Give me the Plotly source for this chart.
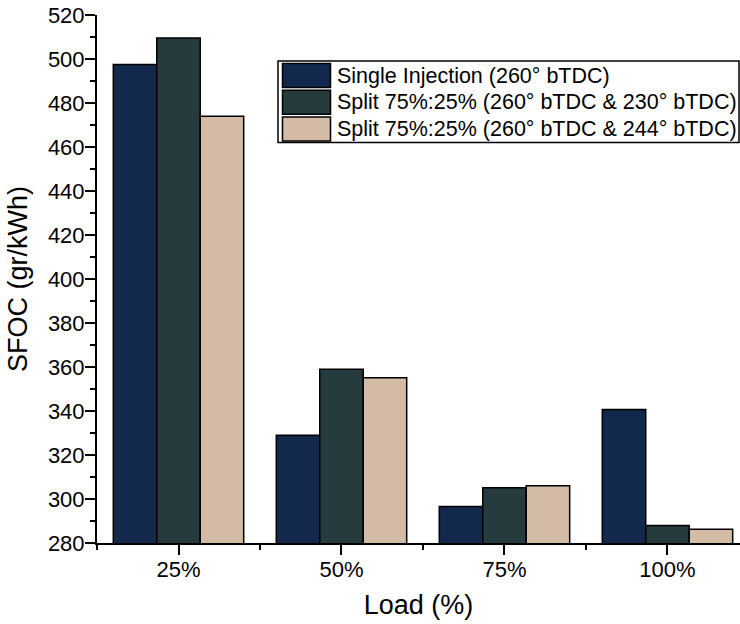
import plotly.graph_objects as go

# ---- data ----
categories = ["25%", "50%", "75%", "100%"]
series_names = [
    "Single Injection (260° bTDC)",
    "Split 75%:25% (260° bTDC & 230° bTDC)",
    "Split 75%:25% (260° bTDC & 244° bTDC)",
]
single_injection = [497.5, 329.0, 296.6, 340.7]
split_230 = [509.5, 359.0, 305.1, 288.0]
split_244 = [474.0, 355.1, 306.0, 286.2]
y_ticks = list(range(280, 521, 20))

# ---- style ----
colors = ["#12284c", "#253b3d", "#d4bba6"]
FONT = "Arial, Liberation Sans, sans-serif"
W, H = 740, 624
ML, MR, MT, MB = 97, 0, 15, 81
PW, PH = W - ML - MR, H - MT - MB

x_pos = list(range(len(categories)))
fig = go.Figure()
for name, vals, col in zip(series_names, [single_injection, split_230, split_244], colors):
    fig.add_trace(go.Bar(
        x=x_pos, y=vals, name=name, showlegend=False,
        marker=dict(color=col, line=dict(color="#000000", width=1.5)),
    ))

fig.update_layout(
    width=W, height=H,
    margin=dict(l=ML, r=MR, t=MT, b=MB, pad=0, autoexpand=False),
    plot_bgcolor="white", paper_bgcolor="white",
    barmode="group", bargap=0.2, bargroupgap=0,
    font=dict(family=FONT, color="#000000"),
)
fig.update_xaxes(
    automargin=False, ticklabeloverflow="allow",
    range=[-0.5, 3.445], tickmode="array", tickvals=x_pos, ticktext=categories,
    showline=True, linecolor="#000000", linewidth=2, showgrid=False, zeroline=False,
    ticks="outside", ticklen=10, tickwidth=1.5, tickcolor="#000000",
    tickfont=dict(size=22, family=FONT), ticklabelstandoff=-4,
    minor=dict(tickmode="array", tickvals=[i - 0.5 for i in range(len(categories) + 1)],
               ticks="outside", ticklen=5, tickwidth=1.5, tickcolor="#000000"),
    title=dict(text="Load (%)", font=dict(size=27, family=FONT), standoff=14),
)
fig.update_yaxes(
    automargin=False, ticklabeloverflow="allow",
    range=[280, 520], tickmode="array", tickvals=y_ticks,
    showline=True, linecolor="#000000", linewidth=2, showgrid=False, zeroline=False,
    ticks="outside", ticklen=10, tickwidth=1.5, tickcolor="#000000",
    tickfont=dict(size=22, family=FONT), ticklabelstandoff=-4,
    minor=dict(dtick=10, tick0=280, ticks="outside", ticklen=5, tickwidth=1.5, tickcolor="#000000"),
    title=dict(text="SFOC (gr/kWh)", font=dict(size=27, family=FONT), standoff=12),
)

# ---- custom legend (large swatches like the original) ----
def px_x(p):
    return (p - ML) / PW

def px_y(p):
    return (H - MB - p) / PH

shapes = [dict(type="rect", xref="paper", yref="paper",
               x0=px_x(278), x1=px_x(739), y0=px_y(142.5), y1=px_y(61),
               line=dict(color="#000000", width=1.5), fillcolor="white", layer="above")]
annotations = []
for i, (name, col) in enumerate(zip(series_names, colors)):
    top = 63.5 + i * 26.7
    shapes.append(dict(type="rect", xref="paper", yref="paper",
                       x0=px_x(282.5), x1=px_x(330.5), y0=px_y(top + 24), y1=px_y(top),
                       line=dict(color="#000000", width=1.5), fillcolor=col, layer="above"))
    annotations.append(dict(xref="paper", yref="paper", x=px_x(335), y=px_y(top + 12),
                            xanchor="left", yanchor="middle", showarrow=False,
                            text=name, font=dict(size=21.5, family=FONT, color="#000000")))
fig.update_layout(shapes=shapes, annotations=annotations)

fig.write_html(
    "out.html",
    config={"displayModeBar": False},
    post_script="document.body.style.margin='0';document.body.style.overflow='hidden';",
)
